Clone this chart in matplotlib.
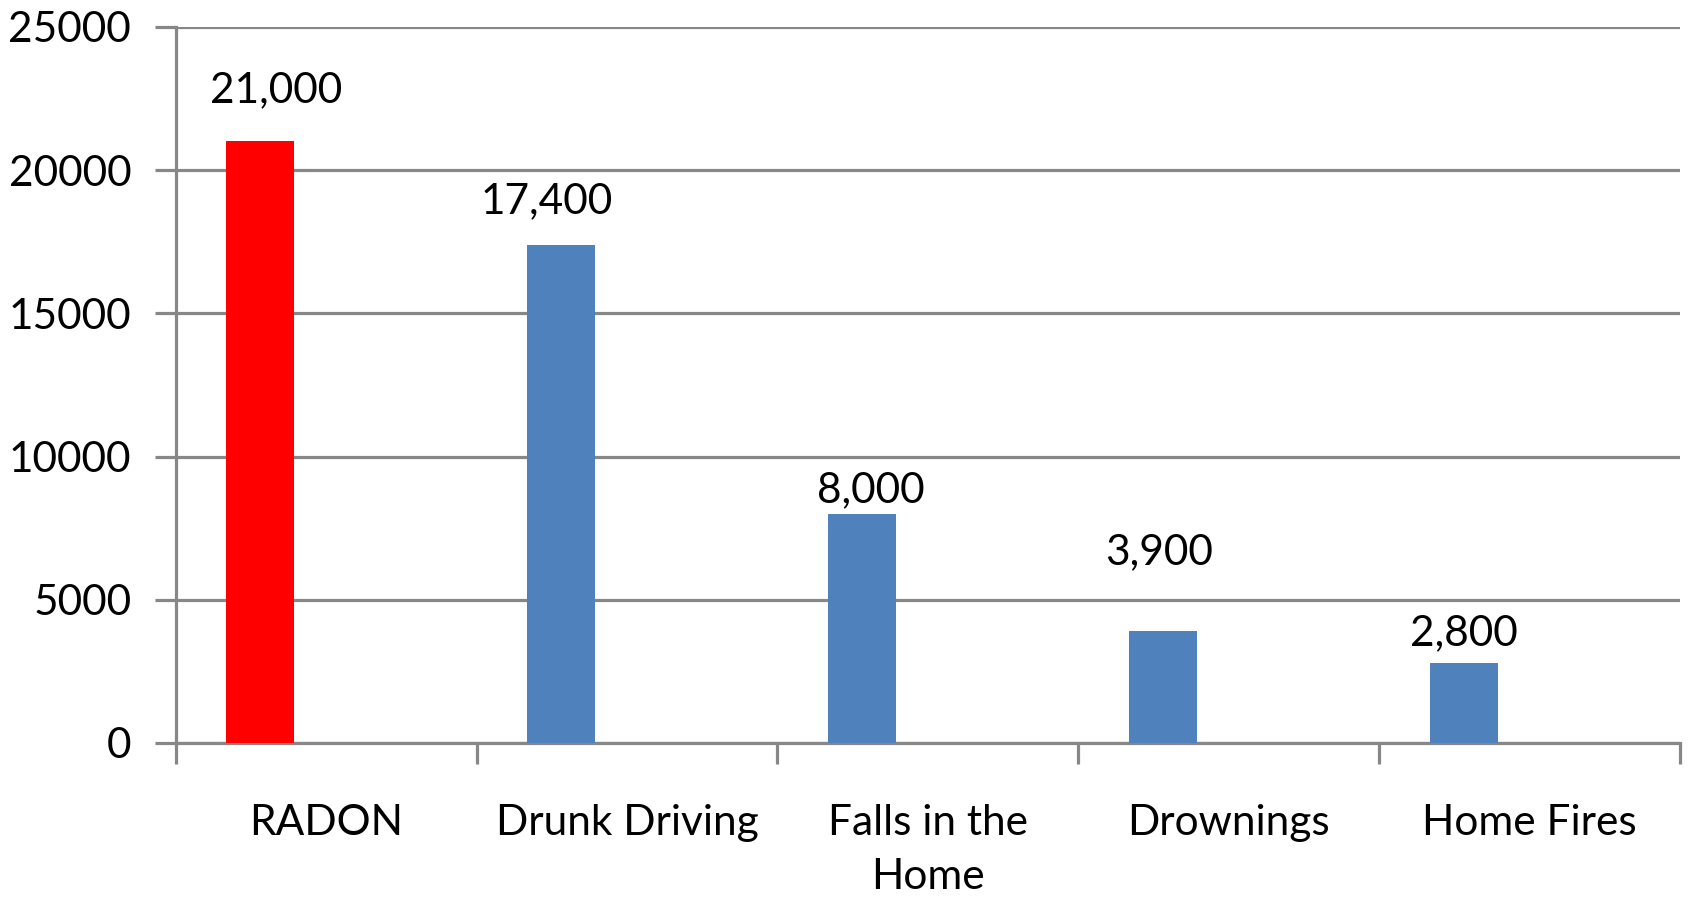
import matplotlib
matplotlib.use("Agg")
import matplotlib.pyplot as plt
import numpy as np

categories = ["RADON", "Drunk Driving", "Falls in the\nHome", "Drownings", "Home Fires"]
deaths = [21000, 17400, 8000, 3900, 2800]
value_labels = ["21,000", "17,400", "8,000", "3,900", "2,800"]
bar_colors = ["#FF0000", "#4F81BD", "#4F81BD", "#4F81BD", "#4F81BD"]

# label nudges (x in category units, y in data units), as placed in the original
lab_dx = [0.052, -0.047, 0.03, -0.013, 0.0]
lab_dy = [1780, 1510, 830, 2750, 1030]

plt.rcParams['font.family'] = ['Lato', 'DejaVu Sans']
grid_col = "#878787"
fs = 30.5

fig = plt.figure(figsize=(16.89, 8.97), dpi=100)
ax = fig.add_axes([0.104, 0.1717, 0.8907, 0.7983])

x = np.arange(len(categories))
bx = x - 0.219  # bars sit left of the slot centre
ax.bar(bx, deaths, width=0.226, color=bar_colors, zorder=3)

for i in range(len(deaths)):
    ax.text(bx[i] + lab_dx[i], deaths[i] + lab_dy[i], value_labels[i],
            ha="center", va="center", fontsize=fs, color="black", zorder=4)

ax.set_xlim(-0.5, len(categories) - 0.5)
ax.set_ylim(0, 25000)
ax.set_yticks(np.arange(0, 25001, 5000))
ax.yaxis.grid(True, color=grid_col, linewidth=2.3, zorder=0)
ax.set_axisbelow(True)

# category names in the middle, ticks on the slot edges
ax.set_xticks(x)
ax.set_xticklabels(categories, fontsize=fs, linespacing=1.5)
ax.set_xticks(np.arange(-0.5, len(categories)), minor=True)
ax.tick_params(axis="x", which="major", length=0, pad=44)
ax.tick_params(axis="x", which="minor", length=15, width=2.3, color=grid_col)
ax.tick_params(axis="y", length=15, width=2.3, color=grid_col, labelsize=fs, pad=17)

for s in ["top", "right"]:
    ax.spines[s].set_visible(False)
for s in ["left", "bottom"]:
    ax.spines[s].set_color(grid_col)
    ax.spines[s].set_linewidth(2.3)

fig.savefig("out.png", dpi=100)
